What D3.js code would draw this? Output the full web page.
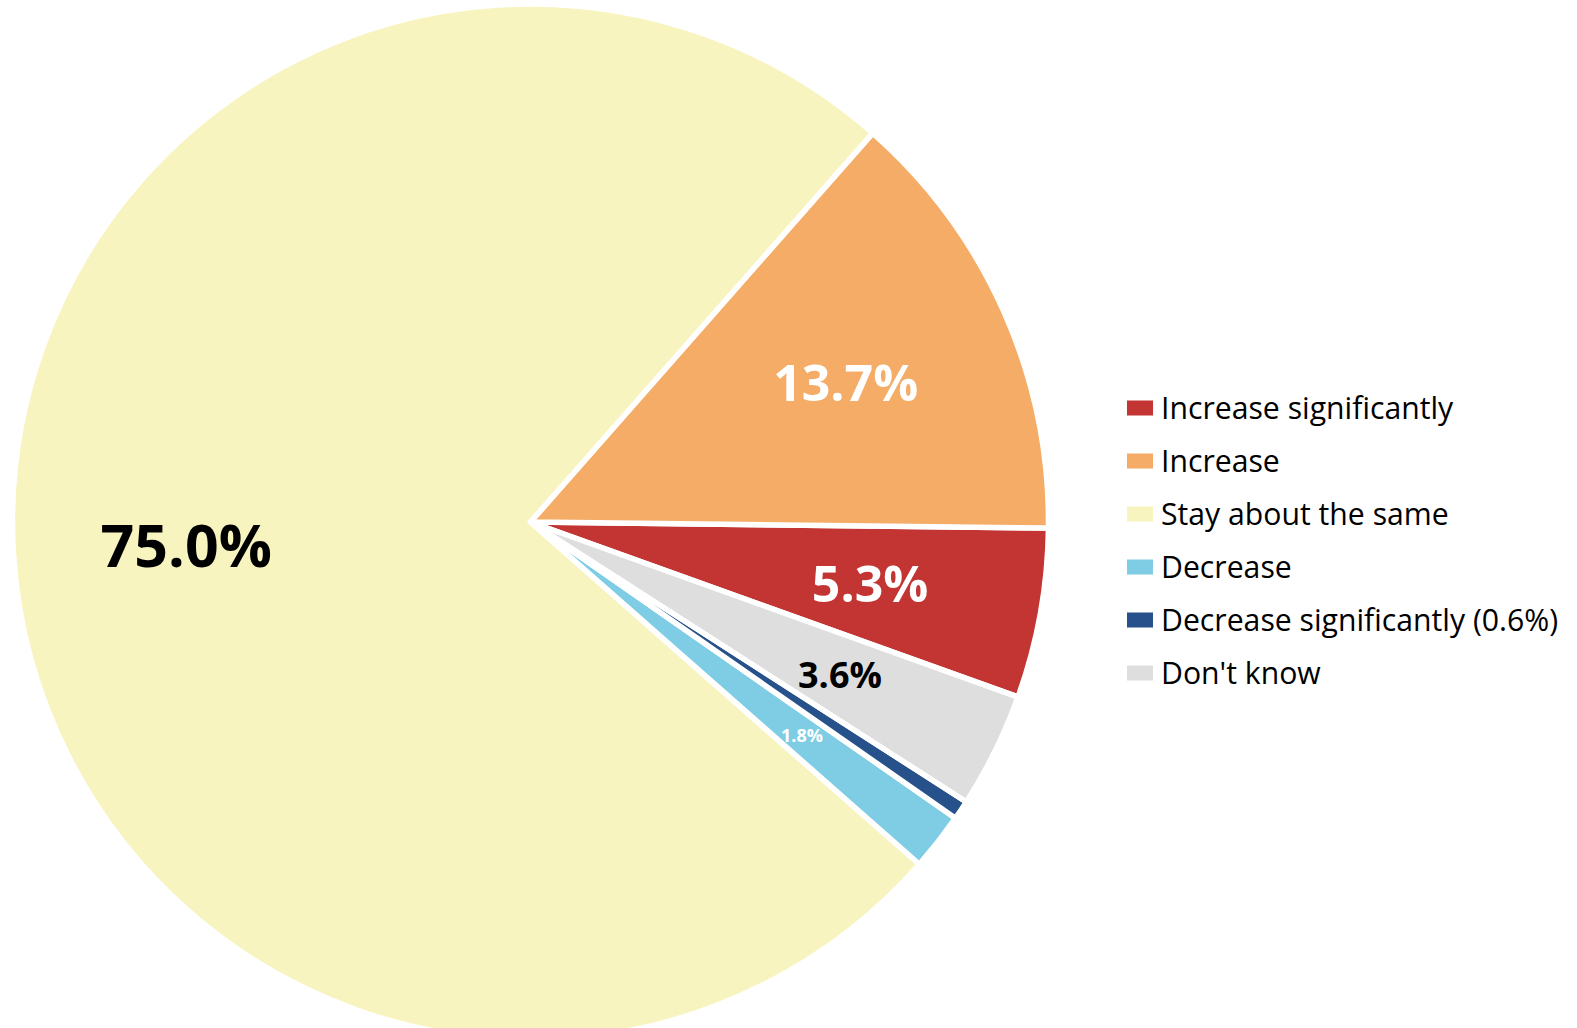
<!DOCTYPE html>
<html><head><meta charset="utf-8">
<script src="https://cdn.jsdelivr.net/npm/d3@7"></script>
<style>html,body{margin:0;padding:0;background:#fff;overflow:hidden}</style>
</head><body><svg id="chart" width="1577" height="1028"></svg>
<script>
const categories = ["Increase significantly","Increase","Stay about the same","Decrease","Decrease significantly (0.6%)","Don't know"];
const values = [5.3, 13.7, 75.0, 1.8, 0.6, 3.6];
const labels = ["5.3%","13.7%","75.0%","1.8%","","3.6%"];
const colors = ["#C23532","#F4AC67","#F8F4C0","#7ECDE4","#26518A","#DEDEDE"];
const labelColors = ["#fff","#fff","#000","#fff","#fff","#000"];
const labelSizes = [50,50,59,18,0,36];

const svg = d3.select("#chart");
const cx = 530.5, cy = 522, R = 518;
const deg = Math.PI/180;
const start = 90.67*deg + values[0]/100*2*Math.PI;
const pie = d3.pie().sort(null).value(d=>d).startAngle(start).endAngle(start - 2*Math.PI);
const arcs = pie(values);
const arc = d3.arc().innerRadius(0).outerRadius(R);
const labelArc = d3.arc().innerRadius(345).outerRadius(345);
const g = svg.append("g").attr("transform",`translate(${cx},${cy})`);
g.selectAll("path").data(arcs).join("path")
  .attr("d",arc).attr("fill",(d,i)=>colors[i])
  .attr("stroke","#fff").attr("stroke-width",5.5).attr("stroke-linejoin","round");
g.selectAll("text").data(arcs).join("text")
  .attr("transform",d=>`translate(${labelArc.centroid(d)})`)
  .attr("text-anchor","middle").attr("dominant-baseline","central")
  .attr("font-family","'Open Sans', sans-serif").attr("font-weight","bold")
  .attr("font-size",(d,i)=>labelSizes[i]).attr("fill",(d,i)=>labelColors[i])
  .text((d,i)=>labels[i]);

const leg = svg.append("g").attr("transform","translate(1127,0)");
const ly = d3.scalePoint().domain(categories).range([408,673]);
const rows = leg.selectAll("g").data(categories).join("g")
  .attr("transform",d=>`translate(0,${ly(d)})`);
rows.append("rect").attr("x",0).attr("y",-7.5).attr("width",26).attr("height",15)
  .attr("fill",(d,i)=>colors[i]);
rows.append("text").attr("x",34).attr("y",11)
  .attr("font-family","'Open Sans', sans-serif").attr("font-size",30.2).attr("fill","#000")
  .text(d=>d);
</script></body></html>
